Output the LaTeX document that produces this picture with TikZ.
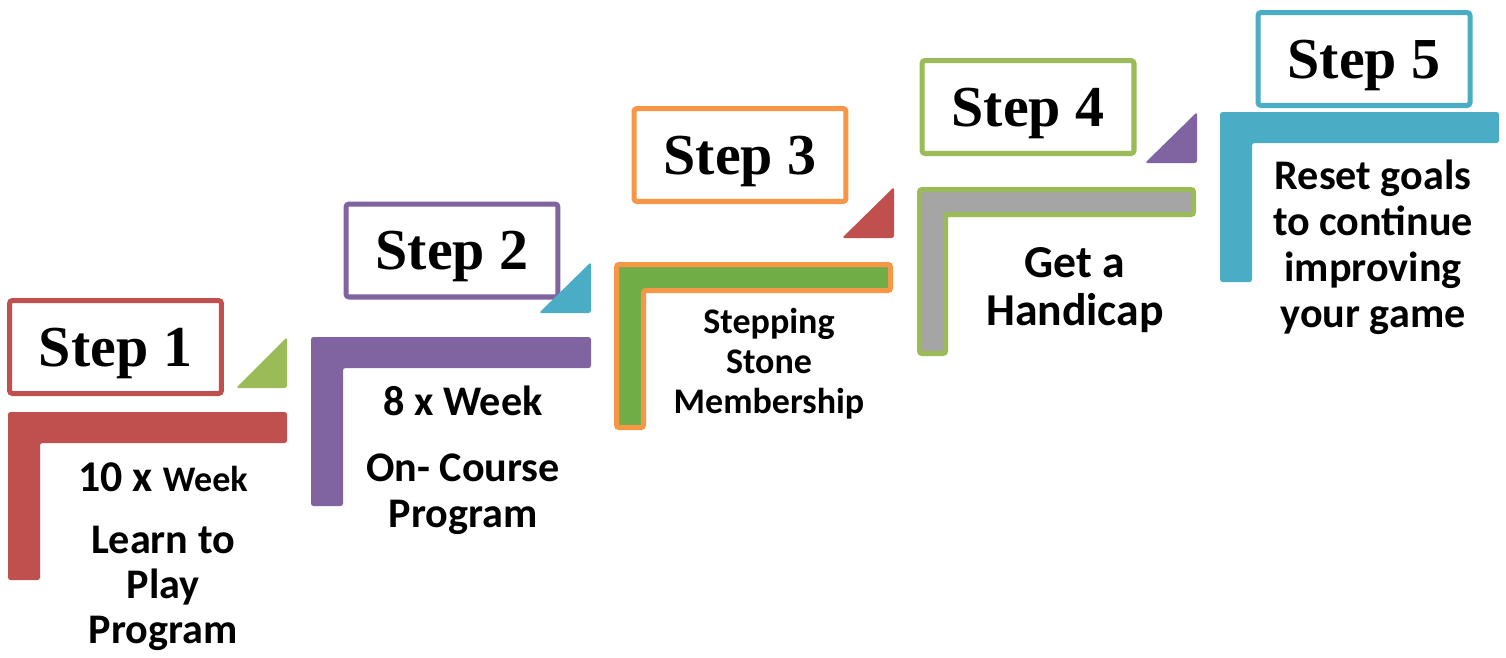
\documentclass[tikz,border=0pt]{standalone}
\usepackage{fontspec}
\setmainfont{Carlito}
\newfontfamily\stepfont{Liberation Serif}
\usetikzlibrary{positioning}
\definecolor{gsRed}{RGB}{192,80,77}
\definecolor{gsGreen}{RGB}{155,187,89}
\definecolor{gsPurple}{RGB}{128,100,162}
\definecolor{gsBlue}{RGB}{75,172,198}
\definecolor{gsOrange}{RGB}{247,150,70}
\definecolor{gsGray}{RGB}{165,165,165}
\definecolor{gsLeaf}{RGB}{112,173,71}
\tikzset{
    stepbox/.style={draw=#1, line width=2.85pt, rounded corners=0.6mm, fill=white,
                    minimum width=4.24cm, minimum height=1.86cm, inner sep=0pt,
                    text height=21.8pt, text depth=0pt,
                    font=\stepfont\bfseries\fontsize{33}{38}\selectfont},
    stair/.style={rounded corners=0.5mm},
    wedge/.style={rounded corners=0.5mm},
    note/.style={align=center, inner sep=0pt, anchor=base,
                 font=\bfseries\fontsize{24}{26}\selectfont}
}

\begin{document}
\begin{tikzpicture}[x=0.02cm, y=-0.02cm]
  \useasboundingbox (0,0) rectangle (1506,657);

  % Step 1
  \node[stepbox=gsRed] (s1) at (115.5,347) {Step 1};
  \fill[gsGreen, wedge] (236,388) -- (287,388) -- (287,337) -- cycle;
  \fill[gsRed, stair] (8,412) -- (287,412) -- (287,443) -- (40,443) -- (40,580) -- (8,580) -- cycle;
  \node[note, font=\bfseries\fontsize{24}{25.5}\selectfont] (t1) at (163,643)
    {{\fontsize{25}{25.5}\selectfont 10 x }{\fontsize{20.5}{25.5}\selectfont Week}\\[10pt] Learn to\\ Play\\ Program};

  % Step 2
  \node[stepbox=gsPurple] (s2) at (452,250.5) {Step 2};
  \fill[gsBlue, wedge] (539,313) -- (591,313) -- (591,262) -- cycle;
  \fill[gsPurple, stair] (311,337) -- (591,337) -- (591,368) -- (343,368) -- (343,506) -- (311,506) -- cycle;
  \node[note] (t2) at (463,527) {8 x Week\\[11.4pt] On- Course\\ Program};

  % Step 3
  \node[stepbox=gsOrange] (s3) at (740,155) {Step 3};
  \fill[gsRed, wedge] (842,238) -- (894,238) -- (894,187) -- cycle;
  \draw[gsOrange, line width=2.85pt, fill=gsLeaf, stair] (616.5,264.5) -- (890.5,264.5) -- (890.5,290.5)
    -- (643.5,290.5) -- (643.5,427.5) -- (616.5,427.5) -- cycle;
  \node[note, font=\bfseries\fontsize{20.5}{22.7}\selectfont] (t3) at (769,413) {Stepping\\ Stone\\ Membership};

  % Step 4
  \node[stepbox=gsGreen] (s4) at (1028,107) {Step 4};
  \fill[gsPurple, wedge] (1145,163) -- (1197,163) -- (1197,112) -- cycle;
  \draw[gsGreen, line width=2.85pt, fill=gsGray, stair] (919.5,189.5) -- (1193.5,189.5) -- (1193.5,214.5)
    -- (945.5,214.5) -- (945.5,353.5) -- (919.5,353.5) -- cycle;
  \node[note, font=\bfseries\fontsize{26}{27}\selectfont] (t4) at (1075,325) {Get a\\ Handicap};

  % Step 5
  \node[stepbox=gsBlue] (s5) at (1364,59) {Step 5};
  \fill[gsBlue, stair] (1220,112) -- (1499,112) -- (1499,143) -- (1252,143) -- (1252,282) -- (1220,282) -- cycle;
  \node[note] (t5) at (1373,327) {Reset goals\\ to continue\\ improving\\ your game};
\end{tikzpicture}
\end{document}
